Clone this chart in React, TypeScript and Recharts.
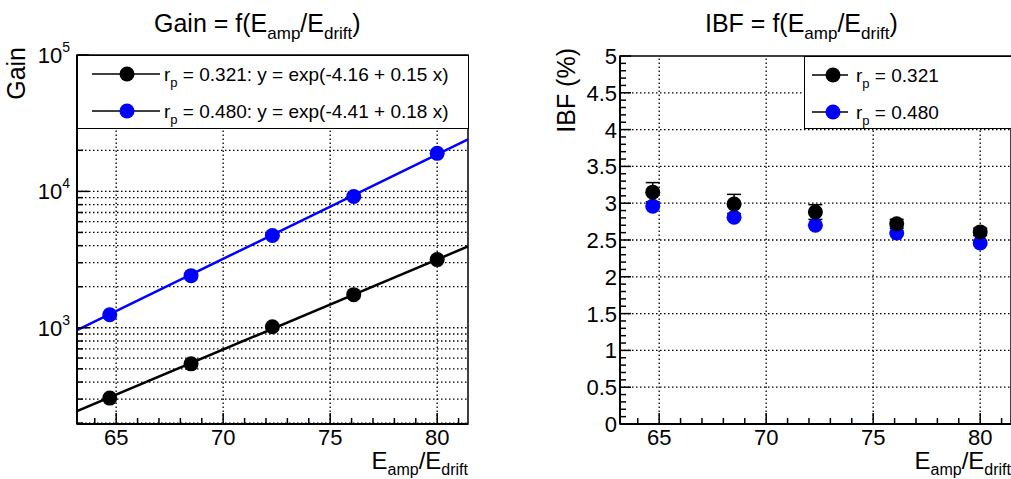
import React from 'react';
import { ComposedChart, Line, Scatter, XAxis, YAxis, ReferenceLine, ReferenceArea, Legend, ErrorBar } from 'recharts';

// E_amp / E_drift measurement points (shared by both panels)
const fieldRatio = [64.7, 68.5, 72.3, 76.1, 80.0];

// gain
const gainRp321 = [305, 544, 1017, 1750, 3162];
const gainRp480 = [1246, 2410, 4745, 9183, 19000];

// fit lines, end points at the frame edges
const fitEnds = [63.17, 81.44];
const fitRp321 = [245, 3945];
const fitRp480 = [960, 24100];

// ion back flow (%)
const ibfRp321 = [3.15, 2.99, 2.88, 2.72, 2.61];
const ibfErrRp321 = [0.13, 0.13, 0.1, 0.06, 0.05];
const ibfRp480 = [2.96, 2.81, 2.7, 2.595, 2.46];

const rpLabels = ['0.321', '0.480'];
const fitLabels = ['exp(-4.16 + 0.15 x)', 'exp(-4.41 + 0.18 x)'];
const colors = ['#000000', '#0000ff'];

const xDomain = [63.17, 81.44];
const xTicks = [64, 65, 66, 67, 68, 69, 70, 71, 72, 73, 74, 75, 76, 77, 78, 79, 80, 81];
const xGrid = [65, 70, 75, 80];

const gainDomain = [197, 100000];
const gainTicks = [
  200, 300, 400, 500, 600, 700, 800, 900,
  1000, 2000, 3000, 4000, 5000, 6000, 7000, 8000, 9000,
  10000, 20000, 30000, 40000, 50000, 60000, 70000, 80000, 90000, 100000,
];
const gainGrid = gainTicks.filter((v) => v < 100000);

const ibfTicks = Array.from({ length: 51 }, (_, i) => i / 10);
const ibfGrid = [0.5, 1, 1.5, 2, 2.5, 3, 3.5, 4, 4.5];

const FONT = '"Liberation Sans", Arial, Helvetica, sans-serif';

const pts = (xs: number[], ys: number[], errs?: number[]) =>
  xs.map((x, i) => ({ x, y: ys[i], err: errs ? errs[i] : 0 }));

const gridProps = { stroke: '#000', strokeWidth: 1.3, strokeDasharray: '1.5 2.5' };

const XTick = (props: any) => {
  const { x, y, payload } = props;
  const v = payload.value;
  const major = v % 5 === 0;
  return (
    <g>
      <line x1={x} x2={x} y1={y} y2={y - (major ? 11 : 6)} stroke="#000" strokeWidth={1.5} />
      {major && (
        <text x={x} y={y + 21} textAnchor="middle" fontSize={22} fontFamily={FONT} fill="#000">
          {v}
        </text>
      )}
    </g>
  );
};

const LogTick = (props: any) => {
  const { x, y, payload } = props;
  const e = Math.log10(payload.value);
  const major = Math.abs(e - Math.round(e)) < 1e-9;
  return (
    <g>
      <line x1={x} x2={x + (major ? 12 : 6)} y1={y} y2={y} stroke="#000" strokeWidth={1.5} />
      {major && (
        <text x={x - 7} y={y + 8} textAnchor="end" fontSize={22} fontFamily={FONT} fill="#000">
          10<tspan dy={-11} fontSize={14}>{Math.round(e)}</tspan>
        </text>
      )}
    </g>
  );
};

const IbfTick = (props: any) => {
  const { x, y, payload } = props;
  const v = Math.round(payload.value * 10) / 10;
  const major = Math.round(v * 10) % 5 === 0;
  return (
    <g>
      <line x1={x} x2={x + (major ? 11 : 6)} y1={y} y2={y} stroke="#000" strokeWidth={1.5} />
      {major && (
        <text x={x - 3} y={y + 8} textAnchor="end" fontSize={22} fontFamily={FONT} fill="#000">
          {v}
        </text>
      )}
    </g>
  );
};

const dot = (color: string) => (props: any) => <circle cx={props.cx} cy={props.cy} r={7.5} fill={color} />;

const LegendBox = ({ width, height, rows, lineX, markX, textX }: any) => (
  <div style={{ width, height, border: '1.5px solid #000', background: '#fff', boxSizing: 'border-box' }}>
    <svg width={width} height={height} style={{ display: 'block', fontFamily: FONT }}>
      {rows.map((r: any, i: number) => {
        const cy = 18 + i * 37;
        return (
          <g key={i}>
            <line x1={lineX[0]} x2={lineX[1]} y1={cy} y2={cy} stroke="#000" strokeWidth={1.5} />
            <circle cx={markX} cy={cy} r={7.5} fill={r.color} />
            <text x={textX} y={cy + 7} fontSize={19} fill="#000">
              <tspan>r</tspan>
              <tspan dy={6} fontSize={13}>p</tspan>
              <tspan dy={-6}>{r.text}</tspan>
            </text>
          </g>
        );
      })}
    </svg>
  </div>
);

// "E_amp/E_drift" with subscripts, optional trailing text
const FieldRatio = ({ sub, shift, tail }: { sub: number; shift: number; tail?: string }) => (
  <>
    <tspan>E</tspan>
    <tspan dy={shift} fontSize={sub}>amp</tspan>
    <tspan dy={-shift}>/E</tspan>
    <tspan dy={shift} fontSize={sub}>drift</tspan>
    {tail ? <tspan dy={-shift}>{tail}</tspan> : null}
  </>
);

export default function App() {
  const gainRows = rpLabels.map((l, i) => ({ color: colors[i], text: ` = ${l}: y = ${fitLabels[i]}` }));
  const ibfRows = rpLabels.map((l, i) => ({ color: colors[i], text: ` = ${l}` }));

  return (
    <div style={{ position: 'absolute', left: 0, top: 0, width: 1011, height: 479, overflow: 'hidden', background: '#fff', fontFamily: FONT }}>
      <div style={{ position: 'absolute', left: 0, top: 0 }}>
        <ComposedChart width={480} height={479} margin={{ top: 55, right: 12, left: 0, bottom: 0 }}>
          <XAxis type="number" dataKey="x" domain={xDomain} allowDataOverflow ticks={xTicks} interval={0}
            tickSize={0} tickMargin={0} tick={<XTick />} axisLine={{ stroke: '#000', strokeWidth: 2 }} height={55} />
          <YAxis type="number" dataKey="y" scale="log" domain={gainDomain} allowDataOverflow ticks={gainTicks} interval={0}
            tickSize={0} tickMargin={0} tick={<LogTick />} axisLine={{ stroke: '#000', strokeWidth: 2 }} width={77} />
          {xGrid.map((v) => <ReferenceLine key={'x' + v} x={v} {...gridProps} />)}
          {gainGrid.map((v) => <ReferenceLine key={'y' + v} y={v} {...gridProps} />)}
          <ReferenceArea x1={xDomain[0]} x2={xDomain[1]} y1={gainDomain[0]} y2={gainDomain[1]} fill="none" stroke="#000" strokeWidth={1.5} />
          <Line data={pts(fitEnds, fitRp321)} dataKey="y" type="linear" stroke={colors[0]} strokeWidth={2.5} dot={false} isAnimationActive={false} />
          <Line data={pts(fitEnds, fitRp480)} dataKey="y" type="linear" stroke={colors[1]} strokeWidth={2.5} dot={false} isAnimationActive={false} />
          <Scatter data={pts(fieldRatio, gainRp321)} dataKey="y" shape={dot(colors[0])} isAnimationActive={false} />
          <Scatter data={pts(fieldRatio, gainRp480)} dataKey="y" shape={dot(colors[1])} isAnimationActive={false} />
          <Legend layout="vertical" align="center" verticalAlign="middle"
            wrapperStyle={{ left: 77, top: 55, width: 392, height: 74 }}
            content={() => <LegendBox width={392} height={74} rows={gainRows} lineX={[14, 82]} markX={49} textX={86} />} />
        </ComposedChart>
      </div>

      <div style={{ position: 'absolute', left: 520, top: 0 }}>
        <ComposedChart width={520} height={479} margin={{ top: 56, right: 29, left: 0, bottom: 0 }}>
          <XAxis type="number" dataKey="x" domain={xDomain} allowDataOverflow ticks={xTicks} interval={0}
            tickSize={0} tickMargin={0} tick={<XTick />} axisLine={{ stroke: '#000', strokeWidth: 2 }} height={55} />
          <YAxis type="number" dataKey="y" domain={[0, 5]} allowDataOverflow ticks={ibfTicks} interval={0}
            tickSize={0} tickMargin={0} tick={<IbfTick />} axisLine={{ stroke: '#000', strokeWidth: 2 }} width={100} />
          {xGrid.map((v) => <ReferenceLine key={'x' + v} x={v} {...gridProps} />)}
          {ibfGrid.map((v) => <ReferenceLine key={'y' + v} y={v} {...gridProps} />)}
          <ReferenceArea x1={xDomain[0]} x2={xDomain[1]} y1={0} y2={5} fill="none" stroke="#000" strokeWidth={1.5} />
          <Scatter data={pts(fieldRatio, ibfRp480)} dataKey="y" shape={dot(colors[1])} isAnimationActive={false} />
          <Scatter data={pts(fieldRatio, ibfRp321, ibfErrRp321)} dataKey="y" shape={dot(colors[0])} isAnimationActive={false}>
            <ErrorBar dataKey="err" direction="y" width={7} stroke="#000" strokeWidth={1.5} isAnimationActive={false} />
          </Scatter>
          <Legend layout="vertical" align="center" verticalAlign="middle"
            wrapperStyle={{ left: 284, top: 56, width: 230, height: 73 }}
            content={() => <LegendBox width={230} height={73} rows={ibfRows} lineX={[7, 43]} markX={28} textX={51} />} />
        </ComposedChart>
      </div>

      <svg width={1011} height={479} style={{ position: 'absolute', left: 0, top: 0, pointerEvents: 'none', fontFamily: FONT }}>
        <text x={154} y={32} fontSize={25} fill="#000">
          <tspan>Gain = f(</tspan>
          <FieldRatio sub={17} shift={7} tail=")" />
        </text>
        <text x={705} y={32} fontSize={25} fill="#000">
          <tspan>IBF = f(</tspan>
          <FieldRatio sub={17} shift={7} tail=")" />
        </text>
        <text transform="rotate(-90 25 47)" x={25} y={47} textAnchor="end" fontSize={25} fill="#000">Gain</text>
        <text transform="rotate(-90 575 48)" x={575} y={48} textAnchor="end" fontSize={25} fill="#000">IBF (%)</text>
        <text x={468} y={469} textAnchor="end" fontSize={24} fill="#000">
          <FieldRatio sub={16} shift={6} />
        </text>
        <text x={1011} y={469} textAnchor="end" fontSize={24} fill="#000">
          <FieldRatio sub={16} shift={6} />
        </text>
      </svg>
    </div>
  );
}
